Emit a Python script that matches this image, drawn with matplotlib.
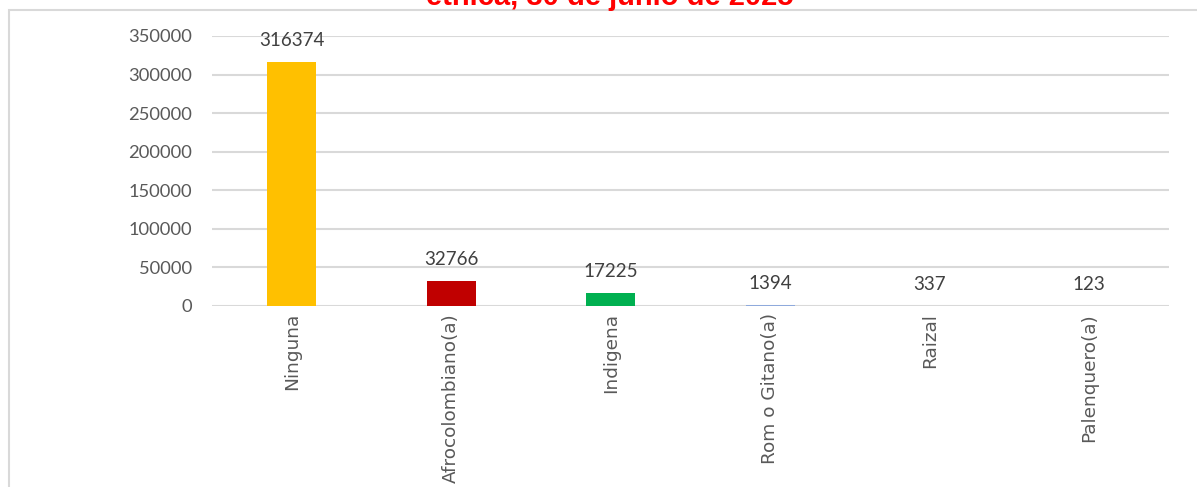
import matplotlib
matplotlib.use("Agg")
import matplotlib.pyplot as plt
from matplotlib.patches import Rectangle

categories = ["Ninguna", "Afrocolombiano(a)", "Indigena", "Rom o Gitano(a)", "Raizal", "Palenquero(a)"]
values = [316374, 32766, 17225, 1394, 337, 123]
colors = ["#FFC000", "#C00000", "#00B050", "#8FAADC", "#7030A0", "#ED7D31"]
yticks = [0, 50000, 100000, 150000, 200000, 250000, 300000, 350000]
title = "étnica, 30 de junio de 2025"

plt.rcParams['font.family'] = ['Lato', 'DejaVu Sans']

fig = plt.figure(figsize=(11.97, 4.87), dpi=100)
ax = fig.add_axes([212/1197, 1-306/487, (1169-212)/1197, (306-36)/487])

x = range(len(categories))
ax.bar(x, values, width=0.31, color=colors, zorder=3)
ax.set_xlim(-0.5, len(categories) - 0.5)
ax.set_ylim(0, 350000)
ax.set_yticks(yticks)
ax.set_yticklabels([str(t) for t in yticks], fontsize=13.2, color="#595959")
ax.set_xticks(list(x))
ax.set_xticklabels(categories, rotation=90, fontsize=13.3, color="#595959", va="top",
                   fontfamily="DejaVu Sans")
ax.tick_params(axis="x", length=0, pad=5)
ax.tick_params(axis="y", length=0, pad=14.5)
ax.grid(axis="y", color="#D9D9D9", linewidth=1.5, zorder=0)
for s in ax.spines.values():
    s.set_visible(False)

for i, v in enumerate(values):
    ax.annotate(str(v), (i, v), xytext=(0, 9), textcoords="offset points",
                ha="center", va="bottom", fontsize=13.5, color="#404040")

fig.patches.append(Rectangle((9/1197, -0.05), 1.2, 1 - 10/487 + 0.05, transform=fig.transFigure,
                             fill=False, edgecolor="#D9D9D9", linewidth=1.5))
fig.text(610/1197, 1 - 5/487, title, ha="center", va="baseline", fontsize=21,
         fontweight="bold", color="#FF0000", family=["Liberation Sans", "DejaVu Sans"])

fig.savefig("out.png", dpi=100)
